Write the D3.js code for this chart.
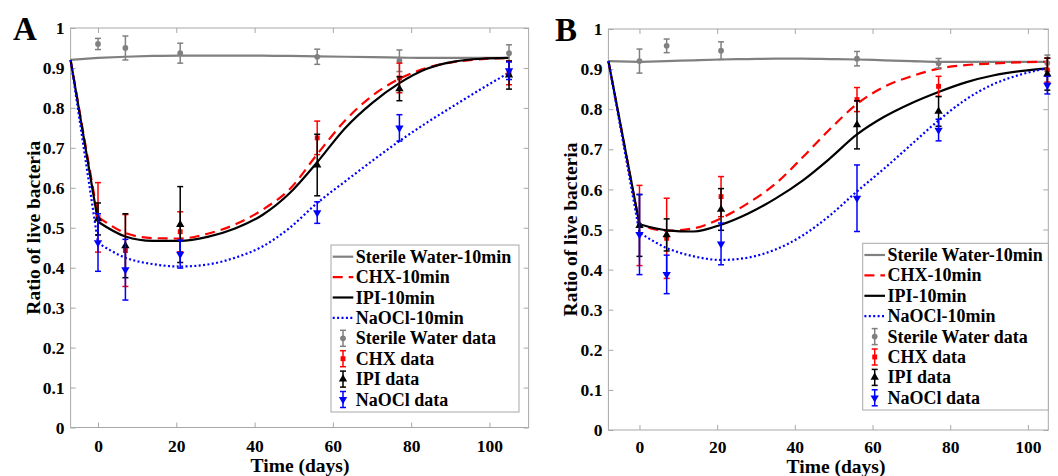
<!DOCTYPE html>
<html>
<head>
<meta charset="utf-8">
<script src="https://cdn.jsdelivr.net/npm/d3@7"></script>
<style>
	body { margin: 0; background: #fff; }
	svg text { font-family: 'Times New Roman', 'Liberation Serif', serif; font-weight: bold; fill: #000; }
</style>
</head>
<body>
<div id="chart"></div>
<script>
// sampling days of the measurements
const sampleDays = [0, 7, 21, 56, 77, 105];

const xTicks = [0, 20, 40, 60, 80, 100];
const yTicks = [0, 0.1, 0.2, 0.3, 0.4, 0.5, 0.6, 0.7, 0.8, 0.9, 1];
const yTickLabels = ['0', '0.1', '0.2', '0.3', '0.4', '0.5', '0.6', '0.7', '0.8', '0.9', '1'];

const legendNames = [
	'Sterile Water-10min',
	'CHX-10min',
	'IPI-10min',
	'NaOCl-10min',
	'Sterile Water data',
	'CHX data',
	'IPI data',
	'NaOCl data'
];

// ---- panel A : model curves
const fitDaysA = [-7, 0, 7, 14, 21, 28, 35, 42, 49, 56, 63, 70, 77, 84, 91, 98, 105];
const waterFitA = [0.92, 0.925, 0.928, 0.93, 0.931, 0.931, 0.931, 0.931, 0.93, 0.929, 0.928, 0.927, 0.926, 0.925, 0.925, 0.925, 0.925];
const chxFitA = [0.92, 0.527, 0.487, 0.474, 0.473, 0.485, 0.508, 0.545, 0.597, 0.684, 0.767, 0.83, 0.873, 0.9, 0.915, 0.922, 0.925];
const ipiFitA = [0.92, 0.515, 0.478, 0.467, 0.467, 0.477, 0.498, 0.532, 0.587, 0.664, 0.748, 0.812, 0.862, 0.898, 0.916, 0.923, 0.925];
const naoclFitA = [0.92, 0.462, 0.425, 0.409, 0.403, 0.408, 0.425, 0.453, 0.5, 0.562, 0.615, 0.667, 0.717, 0.763, 0.806, 0.848, 0.888];

// ---- panel A : measured means and errors
const waterA = [0.96, 0.95, 0.937, 0.928, 0.918, 0.937];
const waterErrA = [0.014, 0.03, 0.025, 0.019, 0.027, 0.021];
const chxA = [0.526, 0.443, 0.49, 0.725, 0.875, 0.888];
const chxErrA = [0.087, 0.09, 0.05, 0.042, 0.037, 0.03];
const ipiA = [0.522, 0.455, 0.508, 0.657, 0.848, 0.882];
const ipiErrA = [0.04, 0.08, 0.095, 0.077, 0.03, 0.035];
const naoclA = [0.463, 0.395, 0.434, 0.538, 0.75, 0.893];
const naoclErrA = [0.072, 0.076, 0.035, 0.027, 0.033, 0.022];

// ---- panel B : model curves
const fitDaysB = [-8, 0, 7, 14, 21, 28, 35, 42, 49, 56, 63, 70, 77, 84, 91, 98, 105];
const waterFitB = [0.92, 0.918, 0.92, 0.922, 0.924, 0.925, 0.926, 0.926, 0.925, 0.924, 0.922, 0.92, 0.918, 0.918, 0.918, 0.918, 0.918];
const chxFitB = [0.92, 0.512, 0.497, 0.503, 0.528, 0.566, 0.614, 0.68, 0.75, 0.813, 0.856, 0.882, 0.901, 0.91, 0.914, 0.917, 0.918];
const ipiFitB = [0.92, 0.513, 0.498, 0.495, 0.512, 0.54, 0.577, 0.622, 0.677, 0.737, 0.781, 0.815, 0.843, 0.867, 0.884, 0.895, 0.902];
const naoclFitB = [0.92, 0.492, 0.454, 0.433, 0.424, 0.43, 0.45, 0.485, 0.535, 0.595, 0.652, 0.712, 0.772, 0.824, 0.862, 0.886, 0.902];

// ---- panel B : measured means and errors
const waterB = [0.92, 0.958, 0.946, 0.926, 0.9145, 0.915];
const waterErrB = [0.03, 0.017, 0.022, 0.018, 0.012, 0.02];
const chxB = [0.51, 0.478, 0.582, 0.824, 0.857, 0.8975];
const chxErrB = [0.1, 0.1, 0.05, 0.03, 0.025, 0.03];
const ipiB = [0.51, 0.4865, 0.55, 0.761, 0.7945, 0.8875];
const ipiErrB = [0.077, 0.04, 0.052, 0.06, 0.037, 0.04];
const naoclB = [0.4875, 0.388, 0.464, 0.578, 0.748, 0.86];
const naoclErrB = [0.1, 0.048, 0.052, 0.083, 0.027, 0.022];

const gray = '#808080';
const frameColor = '#a8a8a8';

// line styles for the four curves, marker styles for the four data sets
const curveStyles = [
	{ color: gray, dash: null, width: 2.2 },
	{ color: '#ff0000', dash: '10,6', width: 2.2 },
	{ color: '#000000', dash: null, width: 2.2 },
	{ color: '#0000ff', dash: '2,2.4', width: 2.2 }
];
const markerStyles = [
	{ color: gray, type: d3.symbolCircle, size: 26, rotate: 0 },
	{ color: '#ff0000', type: d3.symbolSquare, size: 24, rotate: 0 },
	{ color: '#000000', type: d3.symbolTriangle, size: 30, rotate: 0 },
	{ color: '#0000ff', type: d3.symbolTriangle, size: 30, rotate: 180 }
];

const panels = [
	{
		letter: 'A',
		letterX: 13,
		letterY: 40,
		left: 70.6,
		right: 528.6,
		top: 28,
		bottom: 427.5,
		xDomain: [-7, 110],
		xTickPad: 12,
		xLabelX: 300,
		xLabelDy: 44,
		yLabelX: 40,
		legend: { x: 331, y: 245, w: 188, h: 167 },
		fitDays: fitDaysA,
		fits: [waterFitA, chxFitA, ipiFitA, naoclFitA],
		means: [waterA, chxA, ipiA, naoclA],
		errs: [waterErrA, chxErrA, ipiErrA, naoclErrA]
	},
	{
		letter: 'B',
		letterX: 555,
		letterY: 41,
		left: 608.4,
		right: 1048.3,
		top: 29,
		bottom: 430,
		xDomain: [-8, 105.25],
		xTickPad: 10.5,
		xLabelX: 836,
		xLabelDy: 42.5,
		yLabelX: 577,
		legend: { x: 862.7, y: 243.3, w: 185.6, h: 166.7 },
		fitDays: fitDaysB,
		fits: [waterFitB, chxFitB, ipiFitB, naoclFitB],
		means: [waterB, chxB, ipiB, naoclB],
		errs: [waterErrB, chxErrB, ipiErrB, naoclErrB]
	}
];

const svg = d3.select('#chart')
	.append('svg')
	.attr('width', 1058)
	.attr('height', 476);

function drawMarker (sel, style, cx, cy) {
	sel.append('path')
		.attr('d', d3.symbol().type(style.type).size(style.size))
		.attr('transform', `translate(${cx},${cy}) rotate(${style.rotate})`)
		.attr('fill', style.color);
}

function drawErrorBar (sel, color, cx, yTop, yBottom) {
	const cap = 3;
	sel.append('line')
		.attr('x1', cx).attr('x2', cx)
		.attr('y1', yTop).attr('y2', yBottom)
		.attr('stroke', color)
		.attr('stroke-width', 1.5);
	[yTop, yBottom].forEach((yy) => {
		sel.append('line')
			.attr('x1', cx - cap).attr('x2', cx + cap)
			.attr('y1', yy).attr('y2', yy)
			.attr('stroke', color)
			.attr('stroke-width', 1.5);
	});
}

function drawPanel (p) {
	const x = d3.scaleLinear()
		.domain(p.xDomain)
		.range([p.left, p.right]);
	const y = d3.scaleLinear()
		.domain([0, 1])
		.range([p.bottom, p.top]);

	const g = svg.append('g');

	// box
	g.append('rect')
		.attr('x', p.left)
		.attr('y', p.top)
		.attr('width', p.right - p.left)
		.attr('height', p.bottom - p.top)
		.attr('fill', 'none')
		.attr('stroke', frameColor)
		.attr('stroke-width', 1);

	// axes: ticks inside on all four sides
	const tickLen = 5;
	const xAxisB = d3.axisBottom(x).tickValues(xTicks).tickSize(-tickLen).tickPadding(p.xTickPad).tickFormat(d3.format('d'));
	const xAxisT = d3.axisTop(x).tickValues(xTicks).tickSize(-tickLen).tickFormat('');
	const yAxisL = d3.axisLeft(y).tickValues(yTicks).tickSize(-tickLen).tickPadding(6).tickFormat((d, i) => yTickLabels[i]);
	const yAxisR = d3.axisRight(y).tickValues(yTicks).tickSize(-tickLen).tickFormat('');

	const axes = [
		[xAxisB, `translate(0,${p.bottom})`],
		[xAxisT, `translate(0,${p.top})`],
		[yAxisL, `translate(${p.left},0)`],
		[yAxisR, `translate(${p.right},0)`]
	];
	axes.forEach(([ax, tr]) => {
		const a = g.append('g')
			.attr('transform', tr)
			.call(ax);
		a.select('.domain').remove();
		a.selectAll('line').attr('stroke', frameColor);
		a.selectAll('text')
			.attr('font-size', 17.5)
			.attr('font-family', null)
			.attr('fill', '#000');
	});

	// model curves: straight drop to day 0, smooth afterwards
	const line = d3.line()
		.x((d) => x(d[0]))
		.y((d) => y(d[1]))
		.curve(d3.curveMonotoneX);

	p.fits.forEach((vals, i) => {
		const st = curveStyles[i];
		const pts = p.fitDays.map((t, k) => [t, vals[k]]);
		const smooth = line(pts.slice(1));
		const d = `M${x(pts[0][0])},${y(pts[0][1])}L` + smooth.slice(1);
		g.append('path')
			.attr('d', d)
			.attr('fill', 'none')
			.attr('stroke', st.color)
			.attr('stroke-width', st.width)
			.attr('stroke-dasharray', st.dash);
	});

	// data with error bars
	p.means.forEach((vals, i) => {
		const st = markerStyles[i];
		const dg = g.append('g');
		sampleDays.forEach((t, k) => {
			const e = p.errs[i][k];
			drawErrorBar(dg, st.color, x(t), y(vals[k] + e), y(vals[k] - e));
			drawMarker(dg, st, x(t), y(vals[k]));
		});
	});

	// legend
	const L = p.legend;
	const lg = g.append('g');
	lg.append('rect')
		.attr('x', L.x)
		.attr('y', L.y)
		.attr('width', L.w)
		.attr('height', L.h)
		.attr('fill', '#fff')
		.attr('stroke', frameColor)
		.attr('stroke-width', 1);

	legendNames.forEach((name, i) => {
		const cy = L.y + 11.7 + i * 20.4;
		if (i < 4) {
			const st = curveStyles[i];
			lg.append('line')
				.attr('x1', L.x + 1.7)
				.attr('x2', L.x + 22.3)
				.attr('y1', cy)
				.attr('y2', cy)
				.attr('stroke', st.color)
				.attr('stroke-width', st.width)
				.attr('stroke-dasharray', st.dash);
		} else {
			const st = markerStyles[i - 4];
			drawErrorBar(lg, st.color, L.x + 12, cy - 8, cy + 8);
			drawMarker(lg, st, L.x + 12, cy);
		}
		lg.append('text')
			.attr('x', L.x + 24.7)
			.attr('y', cy + 6)
			.attr('font-size', 18)
			.text(name);
	});

	// axis titles and panel letter
	g.append('text')
		.attr('x', p.xLabelX)
		.attr('y', p.bottom + p.xLabelDy)
		.attr('text-anchor', 'middle')
		.attr('font-size', 19.5)
		.text('Time (days)');

	g.append('text')
		.attr('transform', `translate(${p.yLabelX},${(p.top + p.bottom) / 2}) rotate(-90)`)
		.attr('text-anchor', 'middle')
		.attr('font-size', 19.5)
		.text('Ratio of live bacteria');

	g.append('text')
		.attr('x', p.letterX)
		.attr('y', p.letterY)
		.attr('font-size', 33)
		.text(p.letter);
}

panels.forEach(drawPanel);
</script>
</body>
</html>
